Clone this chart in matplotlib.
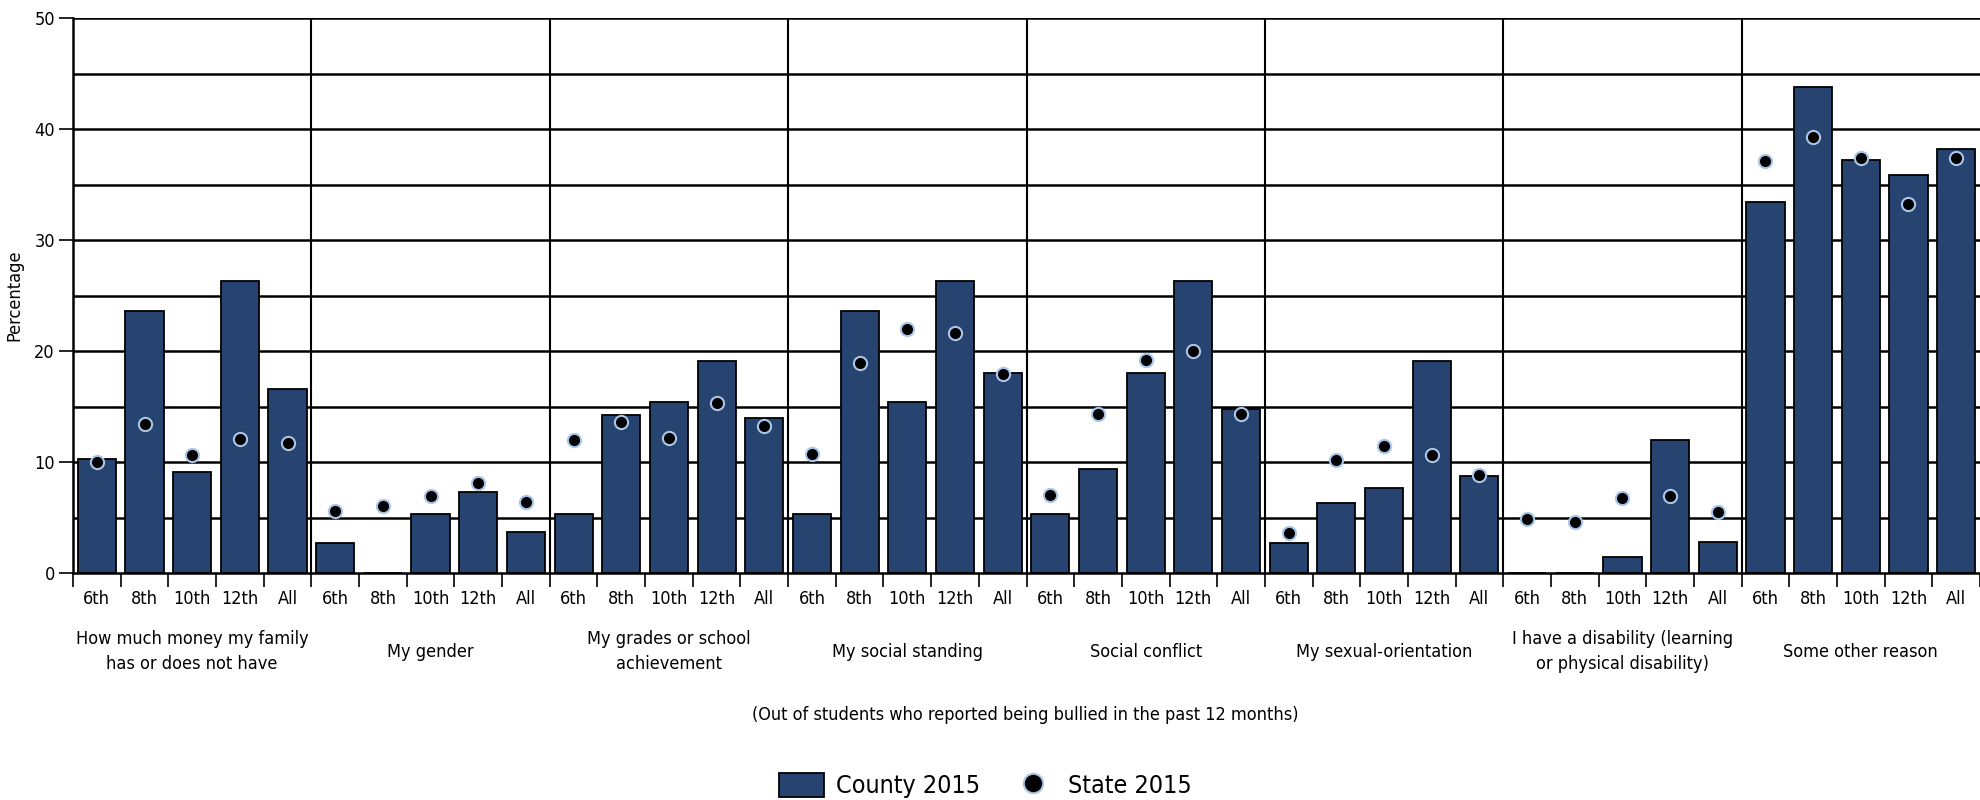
import numpy as np
import matplotlib.pyplot as plt
import matplotlib.transforms as mtransforms
from matplotlib import font_manager
from matplotlib.lines import Line2D
from matplotlib.patches import Patch

names = sorted({(f.name, f.stretch) for f in font_manager.fontManager.ttflist})
print(names)

plt.rcParams['font.family'] = ['Liberation Sans Narrow', 'DejaVu Sans']
plt.rcParams['font.stretch'] = 'condensed'

grades = ["6th", "8th", "10th", "12th", "All"]
reasons = [
    "How much money my family\nhas or does not have",
    "My gender",
    "My grades or school\nachievement",
    "My social standing",
    "Social conflict",
    "My sexual-orientation",
    "I have a disability (learning\nor physical disability)",
    "Some other reason",
]
county_2015 = [
    10.3, 23.6, 9.1, 26.3, 16.6,
    2.7, 0.0, 5.3, 7.3, 3.7,
    5.3, 14.2, 15.4, 19.1, 14.0,
    5.3, 23.6, 15.4, 26.3, 18.0,
    5.3, 9.4, 18.0, 26.3, 14.8,
    2.7, 6.3, 7.7, 19.1, 8.7,
    0.0, 0.0, 1.4, 12.0, 2.8,
    33.4, 43.8, 37.2, 35.9, 38.2,
]
state_2015 = [
    10.0, 13.4, 10.6, 12.1, 11.7,
    5.6, 6.0, 6.9, 8.1, 6.4,
    12.0, 13.6, 12.2, 15.3, 13.2,
    10.7, 18.9, 22.0, 21.6, 17.9,
    7.0, 14.3, 19.2, 20.0, 14.3,
    3.6, 10.2, 11.4, 10.6, 8.8,
    4.85, 4.6, 6.8, 6.9, 5.5,
    37.1, 39.3, 37.4, 33.2, 37.4,
]

bar_color = "#26446f"
dot_edge = "#a9c6e8"

fig = plt.figure(figsize=(19.8, 8), dpi=100)
ax = fig.add_axes([73 / 1980, 1 - 573 / 800, 1 - 73 / 1980, (573 - 18) / 800])

n = len(county_2015)
x = np.arange(n)
ng = len(grades)

# grid
for y in np.arange(5, 51, 5):
    ax.axhline(y, color="black", lw=1.8, zorder=1)
for g in range(1, len(reasons)):
    ax.axvline(g * ng - 0.5, color="black", lw=1.5, zorder=1)

ax.bar(x, county_2015, width=0.8, color=bar_color, edgecolor="black",
       linewidth=1.3, zorder=2)
ax.plot(x, state_2015, linestyle="none", marker="o", markersize=9.5,
        markerfacecolor="black", markeredgecolor=dot_edge,
        markeredgewidth=1.5, zorder=3)

ax.set_xlim(-0.5, n - 0.5)
ax.set_ylim(0, 50)
ax.set_yticks(range(0, 51, 10))
ax.tick_params(axis="y", length=10, width=1.2, pad=3, labelsize=13)

ax.set_xticks(x)
ax.set_xticklabels(grades * len(reasons), fontsize=13)
ax.set_xticks(np.arange(-0.5, n, 1), minor=True)
ax.tick_params(axis="x", which="major", length=0, pad=12)
ax.tick_params(axis="x", which="minor", length=10, width=1.2)

for side in ["top", "right"]:
    ax.spines[side].set_visible(False)
ax.spines["left"].set_linewidth(1.8)
ax.spines["bottom"].set_linewidth(1.8)

ax.set_ylabel("Percentage", fontsize=13)
ax.yaxis.set_label_coords(-0.026, 0.5)

trans = mtransforms.blended_transform_factory(ax.transData, fig.transFigure)
for g, label in enumerate(reasons):
    ax.text(g * ng + (ng - 1) / 2, 0.1856, label, transform=trans,
            ha="center", va="center", fontsize=13, linespacing=1.45)

fig.text(0.518, 0.106, "(Out of students who reported being bullied in the past 12 months)",
         ha="center", va="center", fontsize=13)

handles = [
    Patch(facecolor=bar_color, edgecolor="black", linewidth=1.3),
    Line2D([], [], linestyle="none", marker="o", markersize=14,
           markerfacecolor="black", markeredgecolor=dot_edge, markeredgewidth=1.5),
]
fig.legend(handles, ["County 2015", "State 2015"], loc="center",
           bbox_to_anchor=(0.4975, 0.018), ncol=2, frameon=False,
           fontsize=18, handlelength=1.8, handleheight=1.1,
           columnspacing=1.2, handletextpad=0.5)

fig.savefig("out.png", dpi=100)
